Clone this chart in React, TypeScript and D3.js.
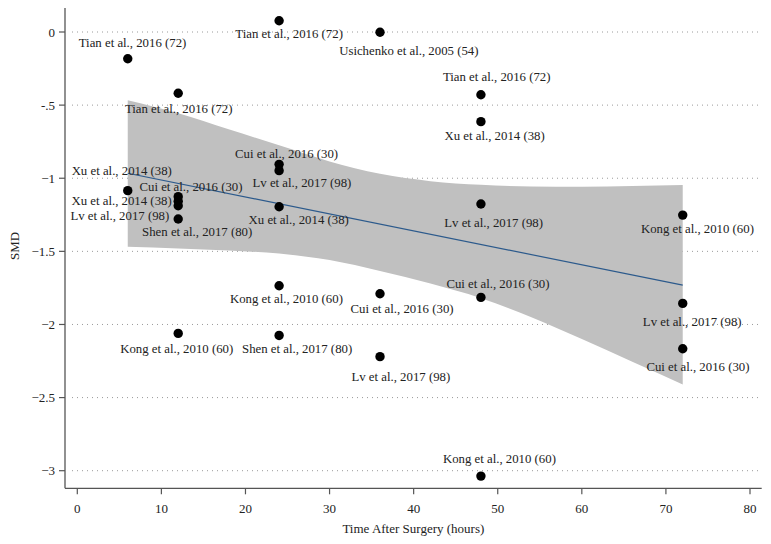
import React from "react";
import * as d3 from "d3";

// ---- data ----
const studyLabels = [
  "Tian et al., 2016 (72)", "Xu et al., 2014 (38)",
  "Tian et al., 2016 (72)", "Cui et al., 2016 (30)", "Xu et al., 2014 (38)", "Lv et al., 2017 (98)", "Shen et al., 2017 (80)", "Kong et al., 2010 (60)",
  "Tian et al., 2016 (72)", "Cui et al., 2016 (30)", "Lv et al., 2017 (98)", "Xu et al., 2014 (38)", "Kong et al., 2010 (60)", "Shen et al., 2017 (80)",
  "Usichenko et al., 2005 (54)", "Cui et al., 2016 (30)", "Lv et al., 2017 (98)",
  "Tian et al., 2016 (72)", "Xu et al., 2014 (38)", "Lv et al., 2017 (98)", "Cui et al., 2016 (30)", "Kong et al., 2010 (60)",
  "Kong et al., 2010 (60)", "Lv et al., 2017 (98)", "Cui et al., 2016 (30)",
];
const hours = [6, 6, 12, 12, 12, 12, 12, 12, 24, 24, 24, 24, 24, 24, 36, 36, 36, 48, 48, 48, 48, 48, 72, 72, 72];
const smd = [
  -0.183, -1.085,
  -0.419, -1.126, -1.158, -1.188, -1.279, -2.061,
  0.077, -0.905, -0.948, -1.195, -1.735, -2.075,
  -0.002, -1.79, -2.22,
  -0.429, -0.613, -1.176, -1.815, -3.037,
  -1.252, -1.856, -2.166,
];

// regression fit line and confidence band
const fitHours = [6, 72];
const fitSmd = [-0.966, -1.731];
const bandHours = [6, 12, 18, 24, 30, 36, 42, 48, 54, 60, 66, 72];
const bandUpper = [-0.466, -0.555, -0.665, -0.775, -0.885, -0.97, -1.02, -1.045, -1.056, -1.058, -1.053, -1.046];
const bandLower = [-1.468, -1.48, -1.495, -1.515, -1.56, -1.635, -1.72, -1.82, -1.95, -2.1, -2.255, -2.41];

const xTicks = [0, 10, 20, 30, 40, 50, 60, 70, 80];
const yTicks = [0, -0.5, -1, -1.5, -2, -2.5, -3];
const yTickLabels = ["0", "-.5", "\u22121", "\u22121.5", "\u22122", "\u22122.5", "\u22123"];

// ---- layout (label offsets relative to marker) ----
const labelOffsets: [number, number, string][] = [
  [4.8, -16, "middle"], [-6, -20, "middle"],
  [0.5, 16, "middle"], [12.8, -9.4, "middle"], [-6.5, 0, "end"], [-9, 10.3, "end"], [19, 13, "middle"], [-1.5, 16, "middle"],
  [10, 13.3, "middle"], [7.5, -10.3, "middle"], [22.8, 12, "middle"], [19.6, 13.3, "middle"], [7.3, 13.6, "middle"], [18, 14, "middle"],
  [28.8, 18.7, "middle"], [22, 15.3, "middle"], [20.8, 20, "middle"],
  [15.8, -17.4, "middle"], [13.7, 14, "middle"], [12.7, 19.3, "middle"], [17, -13.3, "middle"], [18.5, -17, "middle"],
  [14.7, 14.3, "middle"], [9.5, 18.4, "middle"], [15.2, 18, "middle"],
];

const W = 771;
const H = 544;
const FONT = "'Liberation Serif', 'Times New Roman', serif";

export default function App() {
  const x = d3.scaleLinear().domain([0, 80]).range([77.3, 750]);
  const y = d3.scaleLinear().domain([0, -3]).range([32, 470.7]);
  const axisLeft = 65;
  const axisRight = 761.7;
  const axisBottom = 488.3;
  const axisTop = 8;

  const bandData = bandHours.map((h, i) => ({ h, u: bandUpper[i], l: bandLower[i] }));
  const area = d3
    .area<{ h: number; u: number; l: number }>()
    .x((d) => x(d.h))
    .y0((d) => y(d.l))
    .y1((d) => y(d.u))
    .curve(d3.curveMonotoneX);

  const line = d3
    .line<number>()
    .x((_, i) => x(fitHours[i]))
    .y((d) => y(d));

  return (
    <svg
      width={W}
      height={H}
      style={{ position: "absolute", left: 0, top: 0, background: "#fff" }}
      fontFamily={FONT}
    >
      <rect x={0} y={0} width={W} height={H} fill="#fff" />
      {/* gridlines */}
      {yTicks.map((t) => (
        <line
          key={"g" + t}
          x1={72}
          x2={axisRight}
          y1={y(t)}
          y2={y(t)}
          stroke="#9a9a9a"
          strokeWidth={1}
          strokeDasharray="1 4"
        />
      ))}
      {/* CI band */}
      <path d={area(bandData) || ""} fill="#c0c0c0" stroke="none" />
      {/* fit line */}
      <path d={line(fitSmd) || ""} fill="none" stroke="#2c5a8c" strokeWidth={1.2} />
      {/* points */}
      {hours.map((h, i) => (
        <circle key={"p" + i} cx={x(h)} cy={y(smd[i])} r={4.7} fill="#000" />
      ))}
      {/* labels */}
      {hours.map((h, i) => (
        <text
          key={"l" + i}
          x={x(h) + labelOffsets[i][0]}
          y={y(smd[i]) + labelOffsets[i][1]}
          textAnchor={labelOffsets[i][2] as any}
          dominantBaseline="central"
          fontSize={12.8}
          fill="#222"
        >
          {studyLabels[i]}
        </text>
      ))}
      {/* axes */}
      <line x1={axisLeft} x2={axisLeft} y1={axisTop} y2={axisBottom} stroke="#555" strokeWidth={1.3} />
      <line x1={axisLeft} x2={axisRight} y1={axisBottom} y2={axisBottom} stroke="#555" strokeWidth={1.3} />
      {yTicks.map((t, i) => (
        <g key={"yt" + t}>
          <line x1={axisLeft - 6} x2={axisLeft} y1={y(t)} y2={y(t)} stroke="#555" strokeWidth={1.2} />
          <text
            x={axisLeft - 10}
            y={y(t)}
            textAnchor="end"
            dominantBaseline="central"
            fontSize={13}
            fill="#222"
          >
            {yTickLabels[i]}
          </text>
        </g>
      ))}
      {xTicks.map((t) => (
        <g key={"xt" + t}>
          <line x1={x(t)} x2={x(t)} y1={axisBottom} y2={axisBottom + 6} stroke="#555" strokeWidth={1.2} />
          <text
            x={x(t)}
            y={508}
            textAnchor="middle"
            dominantBaseline="central"
            fontSize={13}
            fill="#222"
          >
            {t}
          </text>
        </g>
      ))}
      <text
        x={(axisLeft + axisRight) / 2}
        y={528}
        textAnchor="middle"
        dominantBaseline="central"
        fontSize={13}
        fill="#222"
      >
        Time After Surgery (hours)
      </text>
      <text
        transform={`translate(14, 246) rotate(-90)`}
        textAnchor="middle"
        dominantBaseline="central"
        fontSize={13}
        fill="#222"
      >
        SMD
      </text>
    </svg>
  );
}
